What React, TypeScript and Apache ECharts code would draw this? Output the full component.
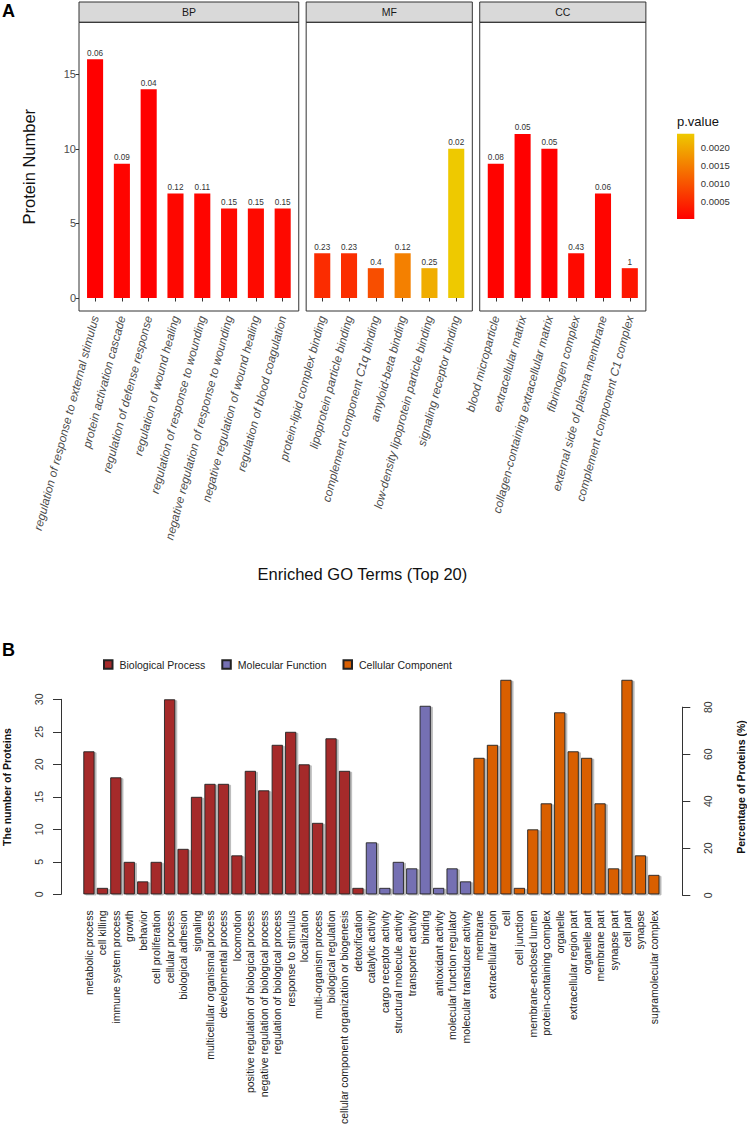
import React, { useEffect, useRef } from "react";
import * as echarts from "echarts";

// ---------- Panel A data ----------
const bpTerms = [
  "regulation of response to external stimulus",
  "protein activation cascade",
  "regulation of defense response",
  "regulation of wound healing",
  "regulation of response to wounding",
  "negative regulation of response to wounding",
  "negative regulation of wound healing",
  "regulation of blood coagulation",
];
const bpCounts = [16, 9, 14, 7, 7, 6, 6, 6];
const bpLabels = ["0.06", "0.09", "0.04", "0.12", "0.11", "0.15", "0.15", "0.15"];
const bpPValues = [2.1e-6, 4.5e-5, 1.2e-6, 8.0e-5, 6.5e-5, 1.1e-4, 1.2e-4, 1.1e-4];

const mfTerms = [
  "protein-lipid complex binding",
  "lipoprotein particle binding",
  "complement component C1q binding",
  "amyloid-beta binding",
  "low-density lipoprotein particle binding",
  "signaling receptor binding",
];
const mfCounts = [3, 3, 2, 3, 2, 10];
const mfLabels = ["0.23", "0.23", "0.4", "0.12", "0.25", "0.02"];
const mfPValues = [0.00052, 0.00055, 0.00092, 0.00152, 0.00205, 0.00238];

const ccTerms = [
  "blood microparticle",
  "extracellular matrix",
  "collagen-containing extracellular matrix",
  "fibrinogen complex",
  "external side of plasma membrane",
  "complement component C1 complex",
];
const ccCounts = [9, 11, 10, 3, 7, 2];
const ccLabels = ["0.08", "0.05", "0.05", "0.43", "0.06", "1"];
const ccPValues = [3.0e-5, 1.5e-6, 4.0e-6, 1.2e-4, 6.0e-5, 2.6e-4];

const facetNames = ["BP", "MF", "CC"];
const aYTicks = [0, 5, 10, 15];
const colorbarTicks = 0.0005;

// ---------- Panel B data ----------
const bBPTerms = [
  "metabolic process", "cell killing", "immune system process", "growth", "behavior",
  "cell proliferation", "cellular process", "biological adhesion", "signaling",
  "multicellular organismal process", "developmental process", "locomotion",
  "positive regulation of biological process", "negative regulation of biological process",
  "regulation of biological process", "response to stimulus", "localization",
  "multi-organism process", "biological regulation",
  "cellular component organization or biogenesis", "detoxification",
];
const bBPCounts = [22, 1, 18, 5, 2, 5, 30, 7, 15, 17, 17, 6, 19, 16, 23, 25, 20, 11, 24, 19, 1];
const bMFTerms = [
  "catalytic activity", "cargo receptor activity", "structural molecule activity",
  "transporter activity", "binding", "antioxidant activity",
  "molecular function regulator", "molecular transducer activity",
];
const bMFCounts = [8, 1, 5, 4, 29, 1, 4, 2];
const bCCTerms = [
  "membrane", "extracellular region", "cell", "cell junction", "membrane-enclosed lumen",
  "protein-containing complex", "organelle", "extracellular region part", "organelle part",
  "membrane part", "synapse part", "cell part", "synapse", "supramolecular complex",
];
const bCCCounts = [21, 23, 33, 1, 10, 14, 28, 22, 21, 14, 4, 33, 6, 3];
const bGroupNames = ["Biological Process", "Molecular Function", "Cellular Component"];
const bGroupColors = ["#A52A2A", "#7570B3", "#D95F02"];
const bTotalProteins = 36;
const bLeftTicks = { max: 30, step: 5 };
const bRightTicks = { max: 80, step: 20 };

// ---------- layout ----------
const FONT = "'Liberation Sans', Arial, Helvetica, sans-serif";
const unitA = 26.8;
const panelGapA = 7.4;
const panelLeft0 = 79;
const stripTop = 2;
const panelTop = 22.3;
const panelBottom = 311;
const yMinA = -0.87;
const yMaxA = 18.48;

const bLeft = 82.2;
const bWidth = 578.4;
const bBottom = 895.3;
const bPxPerUnit = 6.533;

function App() {
  const ref = useRef<HTMLDivElement>(null);

  useEffect(() => {
    const chart = echarts.init(ref.current!, null, { renderer: "svg" });

    const facets = [
      { terms: bpTerms, counts: bpCounts, labels: bpLabels, p: bpPValues },
      { terms: mfTerms, counts: mfCounts, labels: mfLabels, p: mfPValues },
      { terms: ccTerms, counts: ccCounts, labels: ccLabels, p: ccPValues },
    ];
    const pMax = Math.max(...bpPValues, ...mfPValues, ...ccPValues);

    const frameLefts: number[] = [];
    let cur = panelLeft0;
    facets.forEach((f) => {
      frameLefts.push(cur);
      cur += (f.terms.length + 0.2) * unitA + panelGapA;
    });

    const grids: any[] = [];
    const xAxes: any[] = [];
    const yAxes: any[] = [];
    const series: any[] = [];
    const graphics: any[] = [];

    facets.forEach((f, i) => {
      const fw = (f.terms.length + 0.2) * unitA;
      grids.push({
        left: frameLefts[i] + 0.1 * unitA,
        top: panelTop,
        width: f.terms.length * unitA,
        height: panelBottom - panelTop,
      });
      xAxes.push({
        type: "category",
        gridIndex: i,
        data: f.terms,
        axisLine: { show: false },
        axisTick: { show: true, alignWithLabel: true, length: 3.5, lineStyle: { color: "#333", width: 1 } },
        axisLabel: {
          interval: 0,
          rotate: 75,
          margin: 5,
          fontSize: 11.8,
          fontStyle: "italic",
          color: "#4D4D4D",
          fontFamily: FONT,
        },
      });
      if (i === 0) {
        yAxes.push({
          type: "value",
          gridIndex: i,
          min: yMinA,
          max: yMaxA,
          offset: 0.1 * unitA,
          splitLine: { show: false },
          axisLine: { show: false },
          axisTick: { show: true, length: 3.5, customValues: aYTicks, lineStyle: { color: "#333" } },
          axisLabel: { customValues: aYTicks, fontSize: 11, color: "#4D4D4D", margin: 3, fontFamily: FONT },
          name: "Protein Number",
          nameLocation: "middle",
          nameGap: 42,
          nameTextStyle: { fontSize: 16.5, color: "#111", fontFamily: FONT },
        });
      } else {
        yAxes.push({ type: "value", gridIndex: i, min: yMinA, max: yMaxA, show: false, splitLine: { show: false } });
      }
      series.push({
        type: "bar",
        xAxisIndex: i,
        yAxisIndex: i,
        barWidth: "60%",
        encode: { x: 0, y: 1 },
        data: f.counts.map((c, k) => [f.terms[k], c, f.p[k]]),
        label: {
          show: true,
          position: "top",
          distance: 2,
          fontSize: 8.2,
          color: "#333",
          fontFamily: FONT,
          formatter: (pp: any) => f.labels[pp.dataIndex],
        },
      });
      graphics.push({
        type: "rect",
        shape: { x: frameLefts[i], y: stripTop, width: fw, height: panelTop - stripTop },
        style: { fill: "#D9D9D9", stroke: "#333", lineWidth: 1 },
      });
      graphics.push({
        type: "text",
        x: frameLefts[i] + fw / 2,
        y: (stripTop + panelTop) / 2,
        style: {
          text: facetNames[i],
          fill: "#1A1A1A",
          fontSize: 10.5,
          fontFamily: FONT,
          align: "center",
          verticalAlign: "middle",
          textAlign: "center",
          textVerticalAlign: "middle",
        },
      });
      graphics.push({
        type: "rect",
        z: 100,
        shape: { x: frameLefts[i], y: panelTop, width: fw, height: panelBottom - panelTop },
        style: { fill: "none", stroke: "#333", lineWidth: 1 },
      });
    });

    // colorbar (grid 3)
    grids.push({ left: 677, top: 133.7, width: 17.3, height: 85.3 });
    xAxes.push({ type: "category", gridIndex: 3, data: ["p"], show: false });
    const cbAxis = (pos: string, showLabel: boolean) => ({
      type: "value",
      gridIndex: 3,
      position: pos,
      min: 0,
      max: pMax,
      interval: colorbarTicks,
      splitLine: { show: false },
      axisLine: { show: false },
      axisTick: { show: true, inside: true, length: 3.5, lineStyle: { color: "#fff", width: 1 } },
      axisLabel: {
        show: showLabel,
        showMaxLabel: false,
        showMinLabel: false,
        margin: 6.5,
        fontSize: 9.5,
        color: "#333",
        fontFamily: FONT,
        formatter: (v: number) => (v === 0 || v >= pMax - 1e-9 ? "" : v.toFixed(4)),
      },
    });
    yAxes.push(cbAxis("right", true));
    yAxes.push(cbAxis("left", false));
    series.push({
      type: "bar",
      xAxisIndex: 3,
      yAxisIndex: 3,
      barWidth: "100%",
      silent: true,
      data: [pMax],
      itemStyle: {
        color: new echarts.graphic.LinearGradient(0, 0, 0, 1, [
          { offset: 0, color: "#EEC900" },
          { offset: 1, color: "#FF0000" },
        ]),
      },
    });

    // Panel B (grid 4 left axis, grid 5 right axis)
    const bTerms = [...bBPTerms, ...bMFTerms, ...bCCTerms];
    const bLeftHeight = bLeftTicks.max * bPxPerUnit;
    const bRightHeight = (bRightTicks.max * bTotalProteins) / 100 * bPxPerUnit;
    grids.push({ left: bLeft, top: bBottom - bLeftHeight, width: bWidth, height: bLeftHeight });
    grids.push({ left: bLeft, top: bBottom - bRightHeight, width: bWidth, height: bRightHeight });
    xAxes.push({
      type: "category",
      gridIndex: 4,
      data: bTerms,
      axisLine: { show: false },
      axisTick: { show: false },
      axisLabel: { interval: 0, rotate: 90, margin: 16, fontSize: 10.5, color: "#222", fontFamily: FONT },
    });
    xAxes.push({ type: "category", gridIndex: 5, data: bTerms, show: false });
    const bAxisStyle = {
      splitLine: { show: false },
      axisLine: { show: true, lineStyle: { color: "#333", width: 1 } },
      axisTick: { show: true, length: 8, lineStyle: { color: "#333", width: 1 } },
    };
    yAxes.push({
      type: "value",
      gridIndex: 4,
      min: 0,
      max: bLeftTicks.max,
      interval: bLeftTicks.step,
      offset: bLeft - 61,
      ...bAxisStyle,
      axisLabel: { rotate: 90, margin: 17, fontSize: 10.5, color: "#333", fontFamily: FONT },
    });
    yAxes.push({
      type: "value",
      gridIndex: 5,
      position: "right",
      min: 0,
      max: bRightTicks.max,
      interval: bRightTicks.step,
      offset: 682.3 - (bLeft + bWidth),
      ...bAxisStyle,
      axisLabel: { rotate: 90, margin: 20, fontSize: 10.5, color: "#333", fontFamily: FONT },
    });
    const groups = [bBPCounts, bMFCounts, bCCCounts];
    let startIdx = 0;
    groups.forEach((g, gi) => {
      const data = bTerms.map((_, k) => (k >= startIdx && k < startIdx + g.length ? g[k - startIdx] : "-"));
      startIdx += g.length;
      series.push({
        type: "bar",
        name: bGroupNames[gi],
        xAxisIndex: 4,
        yAxisIndex: 5,
        stack: "go",
        barWidth: 11.2,
        clip: false,
        data,
        itemStyle: {
          color: bGroupColors[gi],
          borderColor: "#222",
          borderWidth: 0.9,
          shadowColor: "rgba(0,0,0,0.28)",
          shadowOffsetX: 2,
          shadowOffsetY: 1,
          shadowBlur: 1,
        },
      });
    });

    const txt = (text: string, x: number, y: number, size: number, extra: any = {}, rot = 0) => ({
      type: "text",
      x,
      y,
      rotation: rot,
      style: {
        text,
        fill: extra.fill || "#111",
        fontSize: size,
        fontWeight: extra.fontWeight || "normal",
        fontFamily: FONT,
        align: extra.align || "center",
        verticalAlign: extra.verticalAlign || "middle",
        textAlign: extra.align || "center",
        textVerticalAlign: extra.verticalAlign || "middle",
      },
    });

    graphics.push(txt("A", 2, 11, 18, { fontWeight: "bold", align: "left", fill: "#000" }));
    graphics.push(txt("Enriched GO Terms (Top 20)", (frameLefts[0] + cur - panelGapA) / 2, 574, 16.5));
    graphics.push(txt("p.value", 677, 121.7, 13, { align: "left" }));
    graphics.push(txt("B", 2, 650, 18, { fontWeight: "bold", align: "left", fill: "#000" }));
    graphics.push(txt("The number of Proteins", 7, 787, 10.5, { fontWeight: "bold" }, Math.PI / 2));
    graphics.push(txt("Percentage of Proteins (%)", 741, 787, 10.5, { fontWeight: "bold" }, Math.PI / 2));

    chart.setOption({
      animation: false,
      backgroundColor: "#fff",
      textStyle: { fontFamily: FONT },
      grid: grids,
      xAxis: xAxes,
      yAxis: yAxes,
      series,
      visualMap: {
        type: "continuous",
        show: false,
        min: 0,
        max: pMax,
        dimension: 2,
        seriesIndex: [0, 1, 2],
        inRange: { color: ["#FF0000", "#EEC900"] },
      },
      legend: {
        data: bGroupNames,
        left: 98,
        top: 654,
        icon: "rect",
        itemWidth: 8.5,
        itemHeight: 8.5,
        itemGap: 16,
        selectedMode: false,
        textStyle: { fontSize: 10.5, color: "#222", fontFamily: FONT, padding: [0, 0, 0, 2] },
      },
      graphic: graphics,
    });

    return () => chart.dispose();
  }, []);

  return <div ref={ref} style={{ position: "absolute", left: 0, top: 0, width: 747, height: 1127 }} />;
}

export default App;
